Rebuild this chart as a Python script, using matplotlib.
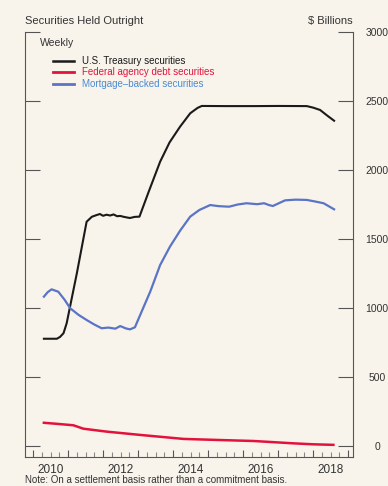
import matplotlib
matplotlib.use("Agg")
import matplotlib.pyplot as plt
from matplotlib import font_manager as fm
from matplotlib.transforms import blended_transform_factory
import numpy as np

# ---------------- data (decimal years, $ billions) ----------------
tsy_t = [2010.31, 2010.50, 2010.68, 2010.77, 2010.87, 2010.96, 2011.25, 2011.53, 2011.68,
         2011.80, 2011.91, 2012.00, 2012.10, 2012.20, 2012.30, 2012.40, 2012.49, 2012.60,
         2012.70, 2012.77, 2012.90, 2013.04, 2013.30, 2013.63, 2013.90, 2014.20, 2014.49,
         2014.70, 2014.82, 2015.50, 2016.30, 2017.00, 2017.82, 2018.00, 2018.20, 2018.40, 2018.60]
tsy_v = [777, 777, 777, 790, 817, 889, 1250, 1625, 1661,
         1672, 1681, 1668, 1676, 1670, 1678, 1665, 1667, 1660,
         1655, 1652, 1660, 1662, 1840, 2060, 2200, 2314, 2411,
         2450, 2464, 2463, 2463, 2464, 2463, 2452, 2435, 2395, 2357]

ag_t = [2010.31, 2010.70, 2011.15, 2011.44, 2012.10, 2013.06, 2014.30, 2015.34, 2016.30, 2017.44, 2018.00, 2018.58]
ag_v = [168, 160, 150, 125, 104, 80, 51, 43, 36, 19, 12, 8]

mbs_t = [2010.31, 2010.42, 2010.53, 2010.72, 2010.90, 2011.06, 2011.30, 2011.53, 2011.75, 2011.96,
         2012.15, 2012.35, 2012.49, 2012.65, 2012.77, 2012.91, 2013.06, 2013.35, 2013.63, 2013.91,
         2014.20, 2014.49, 2014.75, 2015.06, 2015.30, 2015.60, 2015.85, 2016.10, 2016.40, 2016.60,
         2016.75, 2016.85, 2017.20, 2017.50, 2017.82, 2018.05, 2018.30, 2018.60]
mbs_v = [1082, 1115, 1135, 1118, 1060, 998, 950, 913, 880, 853,
         858, 850, 869, 852, 845, 860, 949, 1120, 1311, 1444,
         1560, 1662, 1710, 1746, 1738, 1734, 1750, 1759, 1752, 1759,
         1745, 1739, 1780, 1785, 1783, 1772, 1759, 1715]

series_labels = ["U.S. Treasury securities", "Federal agency debt securities", "Mortgage\u2013backed securities"]
year_labels = [2010, 2012, 2014, 2016, 2018]
y_ticks = [0, 500, 1000, 1500, 2000, 2500, 3000]

# ---------------- style ----------------
avail = {f.name for f in fm.fontManager.ttflist}
fam = "Liberation Sans Narrow" if "Liberation Sans Narrow" in avail else "Liberation Sans"
plt.rcParams['font.family'] = [fam, 'DejaVu Sans']

BG = "#f8f4ec"
BLACK = "#1a1a1a"
RED = "#e3123c"
BLUE = "#5b74c6"
GREY = "#555555"
TXT = "#333333"

W, H = 388, 486
fig = plt.figure(figsize=(W / 100, H / 100), dpi=100, facecolor=BG)
L, R, B, T = 25, 353, 457, 32
ax = fig.add_axes([L / W, 1 - B / H, (R - L) / W, (B - T) / H], facecolor=BG)

ax.plot(tsy_t, tsy_v, color=BLACK, lw=1.5, solid_joinstyle='round')
ax.plot(ag_t, ag_v, color=RED, lw=1.8)
ax.plot(mbs_t, mbs_v, color=BLUE, lw=1.6)

ax.set_xlim(2009.77, 2019.14)
ax.set_ylim(-80, 3000)

ax.spines['top'].set_visible(False)
for s in ['left', 'right', 'bottom']:
    ax.spines[s].set_color(GREY)
    ax.spines[s].set_linewidth(0.8)

# y ticks (inward both sides), labels right, centered
ax.set_yticks(y_ticks)
ax.yaxis.set_ticks_position('both')
ax.tick_params(axis='y', direction='in', length=11, width=0.8, color=GREY,
               left=True, right=True, labelleft=False, labelright=True,
               labelsize=7.5, labelcolor=TXT, pad=17.3)
for lab in ax.get_yticklabels():
    lab.set_horizontalalignment('center')

# x ticks: year starts (major, taller), quarters (minor)
years = np.arange(2010, 2020)
ax.set_xticks(years)
ax.set_xticklabels([])
quarters = [y + q for y in range(2009, 2020) for q in (0.25, 0.5, 0.75)]
quarters = [q for q in quarters if 2009.77 < q < 2019.14]
ax.set_xticks(quarters, minor=True)
ax.tick_params(axis='x', which='major', direction='in', length=5, width=0.8, color=GREY)
ax.tick_params(axis='x', which='minor', direction='in', length=3.5, width=0.8, color="#888888")

trans = blended_transform_factory(ax.transData, fig.transFigure)
for yl in year_labels:
    ax.text(yl + 0.5, 1 - 470 / H, str(yl), transform=trans, ha='center', va='center',
            fontsize=8.5, color=TXT)

# titles
fig.text(L / W, 1 - 21 / H, "Securities Held Outright", ha='left', va='center', fontsize=8, color=TXT)
fig.text(R / W, 1 - 21 / H, "$ Billions", ha='right', va='center', fontsize=8, color=TXT)
fig.text(40 / W, 1 - 43 / H, "Weekly", ha='left', va='center', fontsize=7.5, color=TXT)

# legend
colors = [BLACK, RED, BLUE]
rows = [61, 72, 84]
for lab, c, yy in zip(series_labels, colors, rows):
    yf = 1 - yy / H
    fig.add_artist(plt.Line2D([53 / W, 74 / W], [yf, yf], color=c, lw=2.0 if c != BLACK else 1.8,
                              transform=fig.transFigure))
    tc = c if c != BLUE else "#4a8ad0"
    fig.text(82 / W, yf, lab, ha='left', va='center', fontsize=7, color=tc)

fig.text(L / W, 1 - 480 / H, "Note: On a settlement basis rather than a commitment basis.",
         ha='left', va='center', fontsize=7, color=TXT)

fig.savefig("out.png", dpi=100, facecolor=BG)
